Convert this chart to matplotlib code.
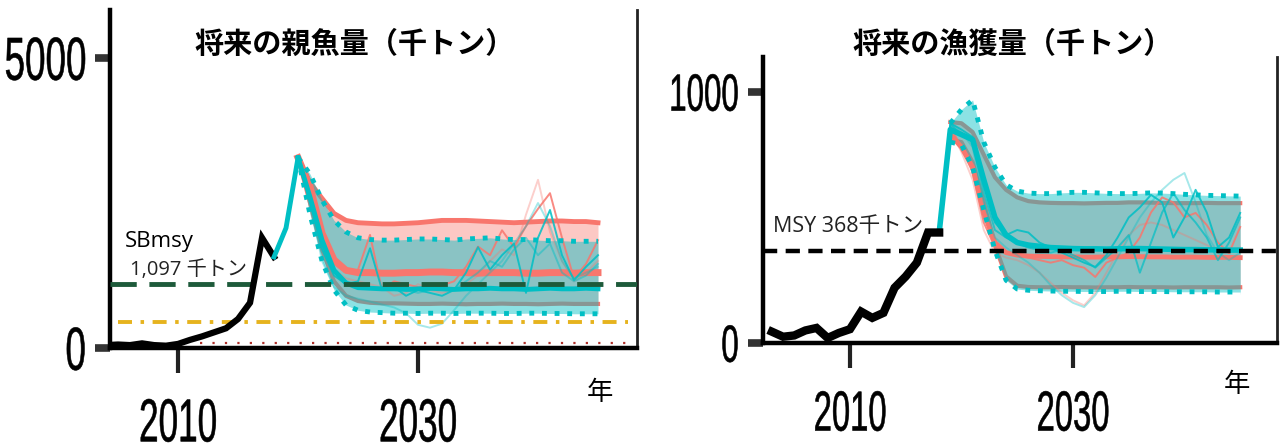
import numpy as np
import matplotlib
matplotlib.use("Agg")
import matplotlib.pyplot as plt
from matplotlib import font_manager as fm
from matplotlib.patheffects import AbstractPathEffect
from matplotlib.textpath import TextPath
from matplotlib.transforms import Affine2D

# ---------------- spawning biomass (thousand tonnes) ----------------
sb_hist_years = np.arange(2004, 2019)
sb_hist = [50, 60, 50, 80, 50, 40, 70, 140, 200, 270, 340, 500, 780, 1900, 1570]

sb_lead_years = np.arange(2018, 2021)
sb_lead = [1570, 2070, 3280]

sb_proj_years = np.arange(2020, 2046)
sb_red_upper = [3280, 2850, 2580, 2320, 2200, 2160, 2150, 2140, 2140, 2150,
                2160, 2180, 2200, 2200, 2200, 2190, 2180, 2170, 2160, 2170,
                2180, 2190, 2190, 2180, 2180, 2160]
sb_red_lower = [3280, 2500, 1700, 1150, 900, 810, 780, 770, 770, 765,
                760, 760, 765, 760, 755, 760, 760, 765, 760, 760,
                755, 760, 765, 760, 760, 760]
sb_cyan_upper = [3280, 3000, 2550, 2200, 2000, 1900, 1870, 1860, 1860, 1870,
                 1880, 1880, 1870, 1860, 1880, 1890, 1900, 1880, 1870, 1870,
                 1860, 1850, 1850, 1840, 1840, 1840]
sb_cyan_lower = [3280, 2300, 1500, 1000, 740, 650, 620, 610, 600, 600,
                 595, 600, 600, 595, 600, 600, 600, 595, 595, 600,
                 600, 595, 595, 590, 590, 590]
sb_red_median = [3280, 2780, 1980, 1520, 1340, 1300, 1300, 1290, 1290, 1300,
                 1300, 1310, 1310, 1300, 1300, 1290, 1300, 1300, 1300, 1290,
                 1290, 1300, 1300, 1290, 1300, 1300]
sb_cyan_median = [3280, 2600, 1860, 1340, 1120, 1040, 1030, 1020, 1020, 1010,
                  1020, 1030, 1020, 1010, 1020, 1020, 1030, 1020, 1020, 1010,
                  1020, 1030, 1020, 1020, 1030, 1020]
sb_red_runs = [
    [3280, 2700, 1900, 1450, 1300, 1350, 1950, 1000, 1150, 1100, 1050, 1000, 1080,
     1150, 1400, 1750, 1600, 2030, 1740, 2100, 2400, 2670, 1900, 1200, 1450, 1860],
    [3280, 2650, 1800, 1350, 1200, 1150, 1100, 1050, 900, 950, 1100, 1000, 950,
     1000, 1100, 1250, 1500, 1700, 1600, 2300, 2900, 2000, 1500, 1150, 1300, 1500],
]
sb_cyan_runs = [
    [3280, 2550, 1700, 1250, 1100, 1150, 1720, 1000, 1050, 900, 1000, 950, 900,
     1000, 1300, 1740, 1350, 1600, 1800, 950, 1900, 2380, 1600, 1170, 1400, 1600],
    [3280, 2500, 1500, 1050, 900, 850, 800, 750, 700, 600, 400, 350, 420,
     650, 900, 1100, 1300, 1500, 1800, 2100, 2500, 2100, 1500, 1200, 1300, 1400],
    [3280, 2600, 1800, 1300, 1150, 1100, 1050, 1000, 1050, 1000, 950, 1000, 1050,
     1000, 1150, 1300, 1500, 1400, 1700, 1900, 1600, 1800, 1300, 1150, 1250, 1450],
]
sb_run_alpha = [0.85, 0.35, 0.45]
sb_msy = 1097
sb_limit = 445
sb_ban = 90

# ---------------- catch (thousand tonnes) ----------------
c_hist_years = np.arange(2003, 2019)
c_hist = [45, 25, 30, 50, 60, 20, 40, 55, 125, 100, 120, 220, 265, 320, 440, 440]

c_lead_years = np.arange(2018, 2046)
c_fan_years = np.arange(2019, 2046)
c_cyan_upper = [875, 930, 968, 800, 700, 630, 605, 597, 595, 595, 598, 600, 600, 598,
                596, 595, 595, 596, 598, 597, 595, 592, 590, 588, 587, 586, 585]
c_red_upper = [880, 875, 840, 750, 660, 610, 580, 565, 560, 558, 557, 557, 556, 557,
               558, 558, 560, 560, 559, 558, 557, 557, 557, 558, 557, 557, 557]
c_cyan_lower = [800, 790, 700, 530, 370, 250, 215, 210, 208, 207, 206, 206, 205, 205,
                205, 206, 206, 205, 205, 205, 204, 204, 204, 204, 203, 203, 203]
c_red_lower = [810, 800, 720, 560, 390, 265, 228, 223, 222, 222, 223, 222, 222, 221,
               222, 222, 223, 222, 222, 222, 221, 222, 222, 222, 222, 221, 222]
c_red_median = [830, 780, 700, 520, 400, 360, 350, 346, 345, 344, 343, 343, 342, 342,
                343, 343, 344, 344, 343, 343, 342, 342, 342, 341, 341, 341, 340]
c_cyan_median = [440, 850, 830, 810, 650, 500, 430, 400, 390, 385, 380, 378, 376, 375,
                 375, 374, 375, 376, 376, 375, 374, 373, 372, 372, 371, 371, 370, 370]
c_red_runs = [
    [860, 780, 680, 480, 380, 360, 350, 340, 330, 320, 330, 310, 300, 263,
     320, 340, 360, 420, 520, 580, 560, 500, 518, 470, 400, 358, 462],
    [850, 760, 650, 450, 360, 340, 330, 310, 280, 240, 200, 170, 150, 200,
     280, 360, 430, 470, 480, 470, 450, 430, 410, 390, 370, 360, 380],
]
c_cyan_runs = [
    [440, 875, 850, 820, 640, 480, 430, 450, 440, 400, 380, 360, 340, 320,
     303, 350, 420, 500, 540, 590, 560, 420, 500, 610, 520, 382, 420, 518],
    [440, 870, 840, 780, 560, 420, 380, 350, 320, 280, 230, 190, 160, 143,
     190, 260, 340, 420, 500, 560, 610, 650, 677, 560, 430, 360, 330, 360],
    [440, 870, 830, 800, 600, 450, 420, 400, 380, 370, 360, 370, 350, 330,
     300, 340, 380, 430, 280, 400, 520, 597, 530, 480, 420, 330, 400, 500],
]
c_run_alpha = [0.85, 0.35, 0.7]
msy = 368

titles = ["将来の親魚量（千トン）", "将来の漁獲量（千トン）"]
year_label = "年"

# ---------------- styling ----------------
RED = "#F8766D"
CYAN = "#00BFC4"
GREEN = "#1d5a3a"
GOLD = "#e6b31e"
BAN_RED = "#b0302a"

plt.rcParams["font.family"] = ["Noto Sans CJK JP", "DejaVu Sans"]
latin_cjk = ["Open Sans", "Noto Sans CJK JP"]
tick_prop = fm.FontProperties(family=["Liberation Sans", "DejaVu Sans"])

W, H = 1280, 443
DPI = 100
fig = plt.figure(figsize=(W / DPI, H / DPI), dpi=DPI)


class TallGlyphs(AbstractPathEffect):
    """Stretch glyphs vertically about their centre and thicken the strokes."""

    def __init__(self, sy, stroke=0.4, color="black"):
        super().__init__()
        self.sy = sy
        self.stroke = stroke
        self.color = color

    def draw_path(self, renderer, gc, tpath, affine, rgbFace=None):
        ext = tpath.get_extents(affine)
        cy = 0.5 * (ext.y0 + ext.y1)
        aff = affine + Affine2D().translate(0, -cy).scale(1, self.sy).translate(0, cy)
        gc0 = renderer.new_gc()
        gc0.copy_properties(gc)
        gc0.set_linewidth(self.stroke)
        gc0.set_foreground(self.color)
        gc0.set_joinstyle("round")
        renderer.draw_path(gc0, tpath, aff, rgbFace)
        gc0.restore()


def fit_size(sample, width_px, height_px):
    """Font size giving the wanted ink width, and the stretch for the wanted height."""
    ext = TextPath((0, 0), sample, size=100, prop=tick_prop).get_extents()
    size = width_px * 72 / DPI * 100 / ext.width
    h0 = ext.height / 100 * size * DPI / 72
    return size, height_px / h0, h0


def px_axes(x0, x1, ytop, ybot):
    return fig.add_axes([x0 / W, 1 - ybot / H, (x1 - x0) / W, (ybot - ytop) / H])


ax1 = px_axes(110, 637, 10, 348)
ax2 = px_axes(763, 1277, 57, 343)

dot_style = (0, (1, 1.6))


def style_axes(ax, xlim, ylim, yticks, ysample, ysize, xsize, xcenter_gap):
    ax.set_xlim(*xlim)
    ax.set_ylim(*ylim)
    ax.set_xticks([2010, 2030])
    ax.set_yticks(yticks)
    ax.spines["top"].set_visible(False)
    for s in ("left", "bottom"):
        ax.spines[s].set_linewidth(3.2)
        ax.spines[s].set_color("black")
    ax.spines["right"].set_linewidth(2.0)
    ax.spines["right"].set_color("#222222")

    ys, ysy, _ = fit_size(ysample, *ysize)
    xs, xsy, xh0 = fit_size("2010", *xsize)
    tick_len = 18
    x_pad = (xcenter_gap - tick_len * DPI / 72 - xh0 / 2) * 72 / DPI
    ax.tick_params(axis="y", direction="out", length=10.5, width=5.5,
                   color="#333333", pad=7)
    ax.tick_params(axis="x", direction="out", length=tick_len, width=3,
                   color="#222222", pad=x_pad)
    for lbl in ax.get_yticklabels():
        lbl.set_fontproperties(tick_prop)
        lbl.set_fontsize(ys)
        lbl.set_path_effects([TallGlyphs(ysy)])
    for lbl in ax.get_xticklabels():
        lbl.set_fontproperties(tick_prop)
        lbl.set_fontsize(xs)
        lbl.set_path_effects([TallGlyphs(xsy)])


# ---- spawning biomass panel ----
ax = ax1
ax.fill_between(sb_proj_years, sb_red_lower, sb_red_upper, color=RED, alpha=0.4, lw=0, zorder=1)
ax.plot(sb_proj_years, sb_red_upper, color=RED, lw=3.5, zorder=2)
ax.plot(sb_proj_years, sb_red_lower, color=RED, lw=3.0, zorder=2)
ax.fill_between(sb_proj_years, sb_cyan_lower, sb_cyan_upper, color=CYAN, alpha=0.45, lw=0, zorder=3)
for run, a in zip(sb_red_runs, sb_run_alpha):
    ax.plot(sb_proj_years, run, color=RED, lw=1.4, alpha=a, zorder=4)
ax.plot(sb_proj_years, sb_red_median, color=RED, lw=5, zorder=5)
for run, a in zip(sb_cyan_runs, sb_run_alpha):
    ax.plot(sb_proj_years, run, color=CYAN, lw=1.4, alpha=a, zorder=6)
ax.plot(sb_proj_years, sb_cyan_median, color=CYAN, lw=3.5, zorder=7)
ax.plot(sb_proj_years, sb_cyan_upper, color=CYAN, lw=3.5, ls=dot_style, zorder=7)
ax.plot(sb_proj_years, sb_cyan_lower, color=CYAN, lw=3.5, ls=dot_style, zorder=7)
ax.axhline(sb_msy, color=GREEN, lw=3.5, ls=(0, (5.4, 2.6)), zorder=8)
ax.plot([2005, 2047.5], [sb_limit, sb_limit], color=GOLD, lw=2.8,
        ls=(0, (3.6, 2.2, 0.9, 2.2)), zorder=8)
ax.plot([2011.8, 2047.8], [sb_ban, sb_ban], color=BAN_RED, lw=1.6,
        ls=(0, (1, 4.6)), zorder=8)
ax.plot(sb_hist_years, sb_hist, color="black", lw=4.5, zorder=9,
        solid_joinstyle="miter")
ax.plot(sb_lead_years, sb_lead, color=CYAN, lw=3.5, zorder=9)
ax.text(2005.6, 1830, "SBmsy", fontsize=16, family=latin_cjk, va="center", zorder=10)
ax.text(2006.0, 1345, f"{sb_msy:,} 千トン", fontsize=14.5, family=latin_cjk,
        va="center", color="#222222", zorder=10)
style_axes(ax, (2004.33, 2048.25), (0, 5828), [0, 5000], "5000",
           (79, 43), (75, 43), 419 - 348)

# ---- catch panel ----
ax = ax2
ax.fill_between(c_fan_years, c_red_lower, c_red_upper, color=RED, alpha=0.4, lw=0, zorder=1)
ax.plot(c_fan_years, c_red_upper, color=RED, lw=3.0, zorder=2)
ax.plot(c_fan_years, c_red_lower, color=RED, lw=3.0, zorder=2)
ax.fill_between(c_fan_years, c_cyan_lower, c_cyan_upper, color=CYAN, alpha=0.45, lw=0, zorder=3)
for run, a in zip(c_red_runs, c_run_alpha):
    ax.plot(c_fan_years, run, color=RED, lw=1.4, alpha=a, zorder=4)
ax.plot(c_fan_years, c_red_median, color=RED, lw=3.5, zorder=5)
for run, a in zip(c_cyan_runs, c_run_alpha):
    ax.plot(c_lead_years, run, color=CYAN, lw=1.4, alpha=a, zorder=6)
ax.plot(c_lead_years, c_cyan_median, color=CYAN, lw=4, zorder=7)
ax.plot(c_fan_years, c_cyan_upper, color=CYAN, lw=3.5, ls=dot_style, zorder=7)
ax.plot(c_fan_years, c_cyan_lower, color=CYAN, lw=3.5, ls=dot_style, zorder=7)
ax.axhline(msy, color="black", lw=3.2, ls=(0, (3.2, 1.9)), zorder=8, clip_on=False,
           xmax=1.01)
ax.plot(c_hist_years, c_hist, color="black", lw=6, zorder=9, solid_joinstyle="miter")
ax.text(2003.1, 462, f"MSY {msy}千トン", fontsize=15.5, family=latin_cjk,
        va="center", color="#222222", zorder=10)
style_axes(ax, (2002.2, 2048.3), (0, 1139), [0, 1000], "1000",
           (66, 37), (70, 40), 410 - 343)

# ---- titles and axis names ----
fig.text(355 / W, 1 - 44 / H, titles[0], ha="center", va="center",
         fontsize=21, fontweight="bold")
fig.text(1013 / W, 1 - 44 / H, titles[1], ha="center", va="center",
         fontsize=21, fontweight="bold")
fig.text(600 / W, 1 - 392 / H, year_label, ha="center", va="center", fontsize=19)
fig.text(1237 / W, 1 - 384 / H, year_label, ha="center", va="center", fontsize=19)

fig.savefig("out.png", dpi=DPI)
